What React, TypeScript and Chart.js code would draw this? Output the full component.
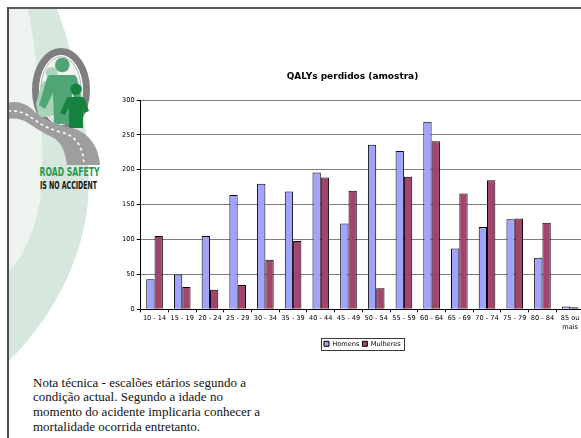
import React, { useEffect, useRef } from "react";
import { Chart, registerables } from "chart.js";

Chart.register(...registerables);

// Age bands (last one wraps onto two lines)
const ageGroups: (string | string[])[] = [
  "10 - 14", "15 - 19", "20 - 24", "25 - 29", "30 - 34", "35 - 39",
  "40 - 44", "45 - 49", "50 - 54", "55 - 59", "60 - 64", "65 - 69",
  "70 - 74", "75 - 79", "80 - 84", ["85 ou", "mais"],
];

const homens = [43, 50, 105, 164, 180, 169, 196, 123, 236, 227, 269, 87, 118, 129, 74, 4];
const mulheres = [105, 32, 28, 35, 71, 98, 189, 170, 30, 190, 241, 166, 185, 130, 124, 3];

const seriesNames = ["Homens", "Mulheres"];
const chartTitle = "QALYs perdidos (amostra)";

const yMax = 300;
const yStep = 50;

const noteLines = [
  "Nota técnica - escalões etários segundo a",
  "condição actual. Segundo a idade no",
  "momento do acidente implicaria conhecer a",
  "mortalidade ocorrida entretanto.",
];

const FONT = "DejaVu Sans";

// Draws a thin frame round the legend entries
const legendFrame = {
  id: "legendFrame",
  afterDraw(chart: any) {
    const boxes = chart.legend?.legendHitBoxes;
    if (!boxes || !boxes.length) return;
    const l = Math.min(...boxes.map((b: any) => b.left)) - 3;
    const r = Math.max(...boxes.map((b: any) => b.left + b.width)) + 3;
    const t = Math.min(...boxes.map((b: any) => b.top)) - 2.5;
    const b2 = Math.max(...boxes.map((b: any) => b.top + b.height)) + 2.5;
    const ctx = chart.ctx;
    ctx.save();
    ctx.strokeStyle = "#3a3a3a";
    ctx.lineWidth = 1;
    ctx.strokeRect(Math.round(l) + 0.5, Math.round(t) + 0.5, Math.round(r - l), Math.round(b2 - t));
    ctx.restore();
  },
};

function QalyChart() {
  const ref = useRef<HTMLCanvasElement | null>(null);

  useEffect(() => {
    if (!ref.current) return;
    const tickFont = { family: FONT, size: 6.6, lineHeight: 1.3 };
    const chart = new Chart(ref.current, {
      type: "bar",
      data: {
        labels: ageGroups,
        datasets: [
          {
            label: seriesNames[0],
            data: homens,
            backgroundColor: "#a2a2ff",
            borderColor: "#000000",
            borderWidth: 1,
          },
          {
            label: seriesNames[1],
            data: mulheres,
            backgroundColor: "#a3446f",
            borderColor: "#000000",
            borderWidth: 1,
          },
        ],
      },
      options: {
        animation: false,
        responsive: false,
        maintainAspectRatio: false,
        datasets: { bar: { categoryPercentage: 0.6, barPercentage: 1.0 } },
        layout: { padding: { left: 0, right: 0, top: 0, bottom: 2.9 } },
        plugins: {
          title: {
            display: true,
            text: chartTitle,
            color: "#000",
            font: { family: FONT, size: 9, weight: "bold" },
            padding: { top: 11.3, bottom: 17.9 },
          },
          legend: {
            position: "bottom",
            fullSize: false,
            labels: {
              boxWidth: 5,
              boxHeight: 5,
              padding: 3,
              color: "#000",
              font: { family: FONT, size: 6.6 },
            },
          },
          tooltip: { enabled: false },
        },
        scales: {
          x: {
            grid: { drawOnChartArea: false, tickLength: 3, tickColor: "#000", offset: true },
            border: { color: "#000" },
            ticks: { color: "#000", font: tickFont, padding: 2, maxRotation: 0, autoSkip: false },
            afterFit: (s: any) => { s.height = 28.2; },
          },
          y: {
            min: 0,
            max: yMax,
            ticks: { stepSize: yStep, color: "#000", font: tickFont, padding: 2 },
            grid: { color: "#7d7d7d", tickLength: 4, tickColor: "#000" },
            border: { color: "#000" },
            afterFit: (s: any) => { s.width = 19.7; },
          },
        },
      },
      plugins: [legendFrame],
    } as any);
    return () => chart.destroy();
  }, []);

  return (
    <canvas
      ref={ref}
      width={463}
      height={300}
      style={{ position: "absolute", left: 121, top: 60, width: 463, height: 300 }}
    />
  );
}

function Emblem() {
  return (
    <svg
      width={581}
      height={438}
      style={{ position: "absolute", left: 0, top: 0 }}
    >
      {/* background sweep */}
      <path d="M 8,9 L 57,9 C 80,70 92,150 88,200 C 84,250 60,310 8,362 Z" fill="#d6e7dd" />
      <path d="M 8,9 L 28,9 C 40,70 46,150 40,200 C 34,235 22,258 8,272 Z" fill="#edf4f0" />

      {/* tyre */}
      <ellipse cx={61} cy={90} rx={23} ry={36} fill="#f1f5f2" />
      <ellipse cx={61} cy={90} rx={25.5} ry={38.5} fill="none" stroke="#7f7f7f" strokeWidth={7} />
      <ellipse cx={61} cy={90} rx={21.2} ry={34.2} fill="none" stroke="#ffffff" strokeWidth={1} />
      <ellipse cx={61} cy={90} rx={20.2} ry={33.2} fill="none" stroke="#b4b4b4" strokeWidth={1} />

      {/* figures */}
      <circle cx={51.7} cy={73} r={6} fill="#a9d4b8" />
      <path d="M 44,81 L 57,81 L 55,115 L 39,118 L 36,104 L 41,85 Z" fill="#a9d4b8" />
      <circle cx={62.3} cy={65} r={7.3} fill="#4fa573" />
      <path
        d="M 50,75 Q 48,75 47,78 L 39,105 L 45,109 L 53,93 L 54,124 L 71,124 L 72,93 L 75,100 L 81,97 L 77,78 Q 76,75 74,75 Z"
        fill="#4fa573"
      />
      <circle cx={76} cy={89.3} r={5.7} fill="#16823f" />
      <path
        d="M 69,97 Q 67,97 66,100 L 60,113 L 65,115 L 69,107 L 69,128 L 83,128 L 83,106 L 84,113 L 89,111 L 85,100 Q 84,97 82,97 Z"
        fill="#16823f"
      />

      {/* road */}
      <path
        d="M 8,103 C 18,100 28,104 36,113 C 45,121 60,125 75,129 C 90,134 99,148 100,165 L 67,165 C 65,152 62,142 52,137 C 42,132 35,128 28,123 C 20,118 14,118 8,119 Z"
        fill="#9e9e9e"
      />
      <path
        d="M 8,111 C 18,110 25,113 32,118 C 42,126 52,130 64,133 C 76,137 83,146 84,165"
        fill="none"
        stroke="#ffffff"
        strokeWidth={1.6}
        strokeDasharray="3 3"
      />

      <text
        x={39.5}
        y={175.5}
        textLength={60}
        lengthAdjust="spacingAndGlyphs"
        fill="#2a9a4f"
        style={{ font: "bold 12px 'DejaVu Sans Condensed', 'DejaVu Sans'" }}
      >
        ROAD SAFETY
      </text>
      <text
        x={40}
        y={188.5}
        textLength={57}
        lengthAdjust="spacingAndGlyphs"
        fill="#111111"
        style={{ font: "bold 9.6px 'DejaVu Sans Condensed', 'DejaVu Sans'" }}
      >
        IS NO ACCIDENT
      </text>
    </svg>
  );
}

export default function App() {
  return (
    <div
      style={{
        position: "fixed",
        left: 0,
        top: 0,
        width: 581,
        height: 438,
        overflow: "hidden",
        background: "#ffffff",
      }}
    >
      <Emblem />
      {/* slide frame */}
      <div style={{ position: "absolute", left: 7, top: 7, width: 574, height: 2, background: "#5e5e5e" }} />
      <div style={{ position: "absolute", left: 7, top: 7, width: 2, height: 431, background: "#4a4a4a" }} />
      <QalyChart />
      <div
        style={{
          position: "absolute",
          left: 33,
          top: 375.5,
          font: "13px 'Liberation Serif', serif",
          lineHeight: "14.8px",
          color: "#111",
          whiteSpace: "nowrap",
        }}
      >
        {noteLines.map((line, i) => (
          <div key={i}>{line}</div>
        ))}
      </div>
    </div>
  );
}
